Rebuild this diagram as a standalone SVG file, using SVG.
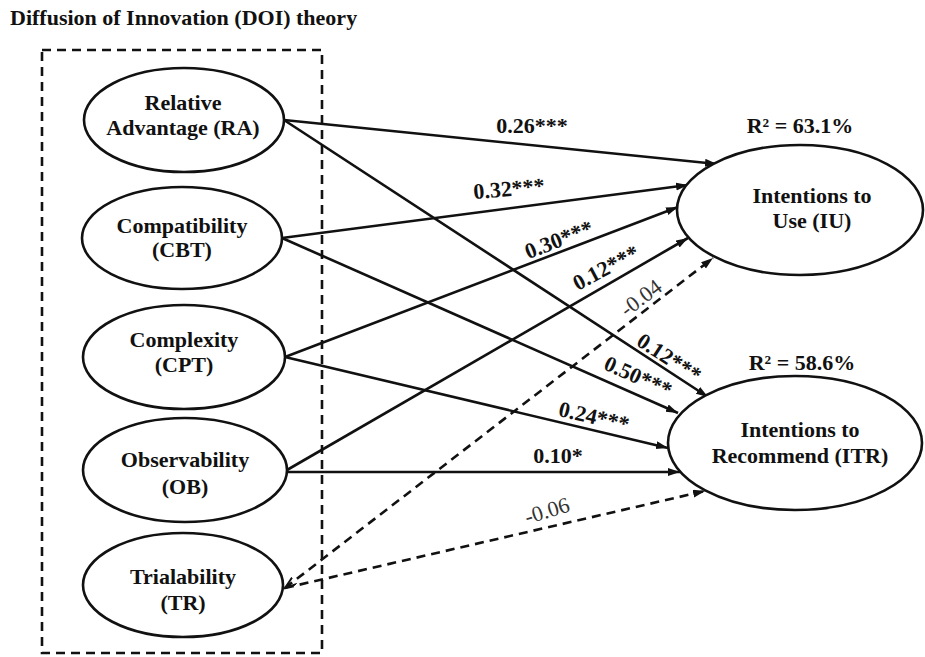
<svg xmlns="http://www.w3.org/2000/svg" width="925" height="657" viewBox="0 0 925 657">
<style>
  .t { font-family: "Liberation Serif", "Times New Roman", serif; font-size: 22px; font-weight: bold; fill: #111; text-anchor: middle; }
  .n { font-family: "Liberation Serif", "Times New Roman", serif; font-size: 22px; font-weight: normal; fill: #333; text-anchor: middle; }
  .node { fill: #fff; stroke: #111; stroke-width: 2.6; }
  .e { stroke: #111; stroke-width: 2.6; fill: none; marker-end: url(#arr); }
  .d { stroke: #111; stroke-width: 2.6; fill: none; stroke-dasharray: 9 6; marker-end: url(#arr); }
</style>
<defs>
  <marker id="arr" markerUnits="userSpaceOnUse" markerWidth="14" markerHeight="10" refX="12" refY="4" orient="auto">
    <path d="M0,0 L12,4 L0,8 z" fill="#111"/>
  </marker>
  <marker id="arrs" markerUnits="userSpaceOnUse" markerWidth="14" markerHeight="10" refX="12" refY="4" orient="auto-start-reverse">
    <path d="M0,0 L12,4 L0,8" fill="none" stroke="#111" stroke-width="2"/>
  </marker>
</defs>
<rect width="925" height="657" fill="#fff"/>
<text x="10" y="25" class="t" style="text-anchor:start">Diffusion of Innovation (DOI) theory</text>
<rect id="doi-box" x="42" y="50" width="280" height="603" fill="none" stroke="#111" stroke-width="2.6" stroke-dasharray="9 6"/>

<g id="connectors">
  <line class="e" x1="284" y1="120" x2="717" y2="164"/>
  <line class="e" x1="284" y1="120" x2="708" y2="397"/>
  <line class="e" x1="282" y1="238" x2="688" y2="185"/>
  <line class="e" x1="282" y1="238" x2="678" y2="413"/>
  <line class="e" x1="285" y1="357" x2="678" y2="207"/>
  <line class="e" x1="285" y1="357" x2="668" y2="448"/>
  <line class="e" x1="287" y1="470" x2="688" y2="238"/>
  <line class="e" x1="287" y1="472" x2="680" y2="472"/>
  <line class="d" x1="285" y1="588" x2="713" y2="258" style="marker-start:url(#arrs)"/>
  <line class="d" x1="285" y1="588" x2="705" y2="491"/>
  <text class="t" x="532" y="133">0.26***</text>
  <text class="t" transform="translate(509,189) rotate(-5)" x="0" y="7">0.32***</text>
  <text class="t" transform="translate(559,240) rotate(-21)" x="0" y="7">0.30***</text>
  <text class="t" transform="translate(606,268) rotate(-28)" x="0" y="7">0.12***</text>
  <text class="n" transform="translate(641,298) rotate(-37)" x="0" y="7">-0.04</text>
  <text class="t" transform="translate(669,358) rotate(33)" x="0" y="7">0.12***</text>
  <text class="t" transform="translate(638,377) rotate(24)" x="0" y="7">0.50***</text>
  <text class="t" transform="translate(594,417) rotate(13)" x="0" y="7">0.24***</text>
  <text class="t" x="558" y="463">0.10*</text>
  <text class="n" transform="translate(547,511) rotate(-17)" x="0" y="7">-0.06</text>
</g>

<g id="RA">
  <ellipse class="node" cx="184" cy="120" rx="100" ry="52"/>
  <text class="t" x="183" y="110">Relative</text>
  <text class="t" x="183" y="135">Advantage (RA)</text>
</g>
<g id="CBT">
  <ellipse class="node" cx="182" cy="238" rx="100" ry="51"/>
  <text class="t" x="182" y="233">Compatibility</text>
  <text class="t" x="182" y="257">(CBT)</text>
</g>
<g id="CPT">
  <ellipse class="node" cx="184" cy="357" rx="101" ry="52"/>
  <text class="t" x="184" y="347">Complexity</text>
  <text class="t" x="184" y="372">(CPT)</text>
</g>
<g id="OB">
  <ellipse class="node" cx="185" cy="470" rx="102" ry="52"/>
  <text class="t" x="185" y="467">Observability</text>
  <text class="t" x="185" y="494">(OB)</text>
</g>
<g id="TR">
  <ellipse class="node" cx="183" cy="585" rx="100" ry="52"/>
  <text class="t" x="183" y="584">Trialability</text>
  <text class="t" x="183" y="610">(TR)</text>
</g>
<g id="IU">
  <text class="t" x="800" y="133">R² = 63.1%</text>
  <ellipse class="node" cx="800" cy="210" rx="123" ry="65"/>
  <text class="t" x="812" y="203">Intentions to</text>
  <text class="t" x="812" y="228">Use (IU)</text>
</g>
<g id="ITR">
  <text class="t" x="802" y="370">R² = 58.6%</text>
  <ellipse class="node" cx="795" cy="443" rx="127" ry="67"/>
  <text class="t" x="800" y="437">Intentions to</text>
  <text class="t" x="800" y="463">Recommend (ITR)</text>
</g>
</svg>
